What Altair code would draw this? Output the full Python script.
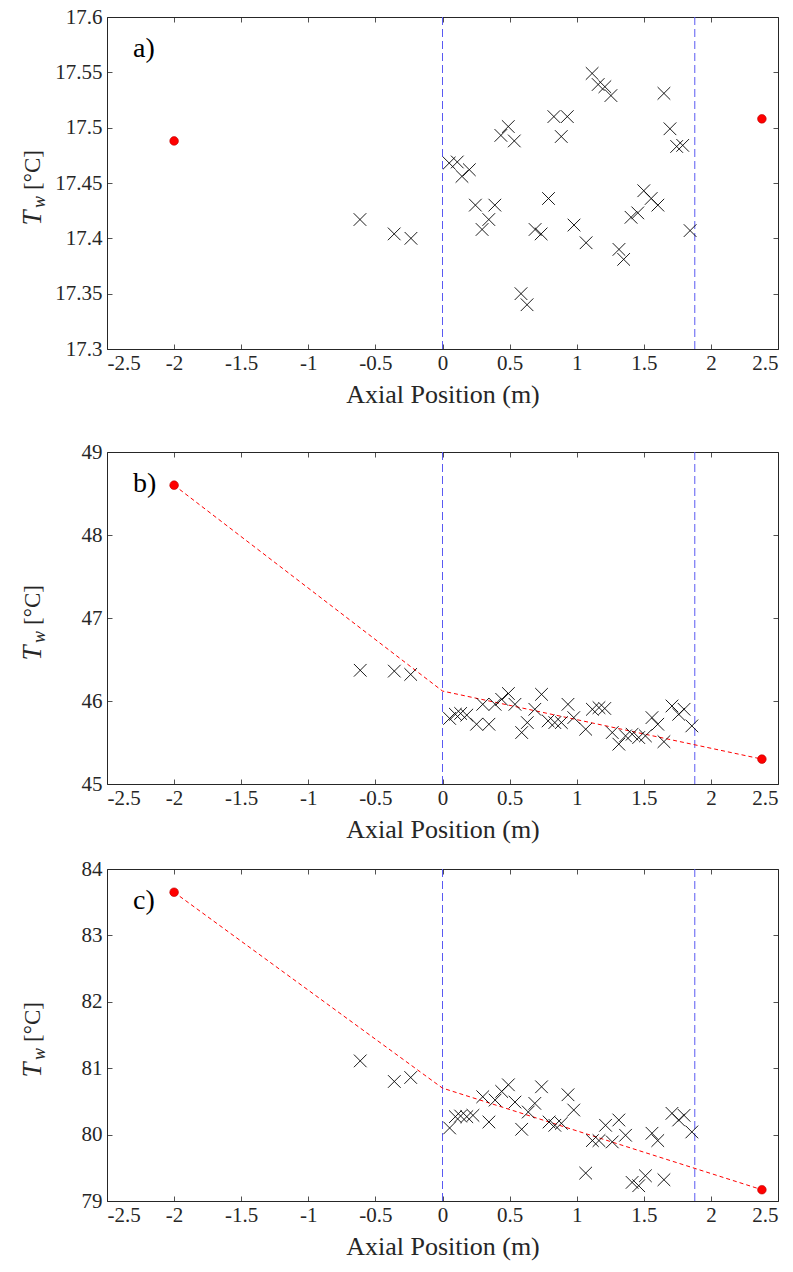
import altair as alt
import pandas as pd

# ---------------- data ----------------
x_ticks = [-2.5, -2, -1.5, -1, -0.5, 0, 0.5, 1, 1.5, 2, 2.5]
section_bounds = [0.0, 1.88]

# panel a) measured wall temperatures
a_x = [-0.615, -0.36, -0.235, 0.05, 0.11, 0.145, 0.2, 0.245, 0.295, 0.345, 0.39, 0.435,
       0.49, 0.535, 0.585, 0.63, 0.69, 0.735, 0.79, 0.83, 0.885, 0.93, 0.98, 1.07, 1.115,
       1.16, 1.21, 1.255, 1.315, 1.35, 1.405, 1.455, 1.50, 1.555, 1.605, 1.65, 1.695,
       1.745, 1.79, 1.845]
a_T = [17.417, 17.404, 17.400, 17.468, 17.469, 17.456, 17.462, 17.430, 17.408, 17.417,
       17.430, 17.493, 17.501, 17.488, 17.350, 17.340, 17.408, 17.404, 17.436, 17.510,
       17.492, 17.510, 17.412, 17.396, 17.549, 17.539, 17.537, 17.529, 17.390, 17.381,
       17.419, 17.423, 17.443, 17.436, 17.430, 17.531, 17.499, 17.483, 17.484, 17.407]
a_end_x = [-2.0, 2.38]
a_end_T = [17.488, 17.508]

# panel b)
b_x = [-0.613, -0.359, -0.237, 0.053, 0.096, 0.135, 0.181, 0.254, 0.346, 0.30, 0.392,
       0.441, 0.491, 0.54, 0.59, 0.632, 0.688, 0.738, 0.787, 0.837, 0.886, 0.935, 0.978,
       1.067, 1.117, 1.166, 1.209, 1.265, 1.314, 1.364, 1.413, 1.462, 1.512, 1.561,
       1.604, 1.65, 1.71, 1.76, 1.80, 1.858]
b_T = [46.37, 46.36, 46.32, 45.79, 45.84, 45.85, 45.83, 45.72, 45.72, 45.96, 45.96,
       46.02, 46.09, 45.96, 45.62, 45.74, 45.90, 46.08, 45.76, 45.74, 45.74, 45.96, 45.80,
       45.66, 45.90, 45.92, 45.91, 45.62, 45.48, 45.58, 45.60, 45.56, 45.58, 45.80,
       45.72, 45.51, 45.94, 45.84, 45.90, 45.70]
b_end_x = [-2.0, 2.38]
b_end_T = [48.60, 45.30]
b_fit_x = [-2.0, 0.0, 2.38]
b_fit_T = [48.60, 46.12, 45.30]

# panel c)
c_x = [-0.613, -0.359, -0.237, 0.053, 0.096, 0.135, 0.181, 0.227, 0.346, 0.30, 0.392,
       0.441, 0.491, 0.54, 0.59, 0.639, 0.688, 0.738, 0.794, 0.837, 0.886, 0.935, 0.978,
       1.067, 1.117, 1.166, 1.215, 1.265, 1.314, 1.364, 1.413, 1.462, 1.512, 1.561,
       1.604, 1.65, 1.71, 1.76, 1.80, 1.858]
c_T = [81.11, 80.80, 80.86, 80.10, 80.27, 80.28, 80.27, 80.29, 80.19, 80.57, 80.52,
       80.65, 80.75, 80.49, 80.08, 80.34, 80.47, 80.72, 80.19, 80.14, 80.17, 80.60, 80.37,
       79.42, 79.91, 79.91, 80.14, 79.89, 80.22, 79.99, 79.28, 79.23, 79.38, 80.02,
       79.91, 79.32, 80.32, 80.22, 80.29, 80.04]
c_end_x = [-2.0, 2.38]
c_end_T = [83.65, 79.17]
c_fit_x = [-2.0, 0.0, 2.38]
c_fit_T = [83.65, 80.70, 79.17]

a_yticks = [17.3, 17.35, 17.4, 17.45, 17.5, 17.55, 17.6]
b_yticks = [45, 46, 47, 48, 49]
c_yticks = [79, 80, 81, 82, 83, 84]

# ---------------- style ----------------
W, H = 671, 332
AXC = "#262626"
SERIF = "'Liberation Serif', 'Times New Roman', Times, 'DejaVu Serif', serif"
LBL = 21
XFMT = "datum.value < 0 ? '-' + format(-datum.value, '~g') : format(datum.value, '~g')"
YFMT = "format(datum.value, '~g')"
CROSS = "M-1,-1L1,1M1,-1L-1,1"


def tick_axis(vals, orient, offset):
    return alt.Axis(values=vals, orient=orient, offset=offset, labels=False, title=None,
                    tickSize=5, domain=False, grid=False, tickColor=AXC, tickWidth=0.8)


def panel(px, pT, ex, eT, fx, fT, ydom, yvals, label):
    xs = alt.Scale(domain=[-2.5, 2.5], nice=False, zero=False)
    ys = alt.Scale(domain=ydom, nice=False, zero=False)

    meas = pd.DataFrame({"x": px, "T": pT})
    ends = pd.DataFrame({"x": ex, "T": eT})
    bounds = pd.DataFrame({"x": section_bounds})

    crosses = alt.Chart(meas).mark_point(
        shape=CROSS, size=160, filled=False, color="black", strokeWidth=0.9, opacity=1
    ).encode(
        x=alt.X("x:Q", scale=xs, axis=alt.Axis(
            values=x_ticks, orient="bottom", title="Axial Position (m)", tickSize=0,
            domain=False, grid=False, labelExpr=XFMT, labelPadding=3, titlePadding=8,
            labelFont=SERIF, labelFontSize=LBL, labelColor=AXC, titleFont=SERIF,
            titleFontSize=26, titleFontWeight="normal", titleColor=AXC)),
        y=alt.Y("T:Q", scale=ys, axis=alt.Axis(
            values=yvals, orient="left", title=None, tickSize=0, domain=False,
            grid=False, labelExpr=YFMT, labelPadding=5, labelFont=SERIF,
            labelFontSize=LBL, labelColor=AXC)),
    )

    dots = alt.Chart(ends).mark_point(
        filled=True, size=75, color="#ff0000", stroke="#b80000", strokeWidth=0.6, opacity=1
    ).encode(
        x=alt.X("x:Q", scale=xs, axis=tick_axis(x_ticks, "top", -H)),
        y=alt.Y("T:Q", scale=ys, axis=tick_axis(yvals, "right", -W)),
    )

    vlines = alt.Chart(bounds).mark_rule(
        color="#5a5af2", strokeDash=[8, 4], strokeWidth=1
    ).encode(
        x=alt.X("x:Q", scale=xs, axis=tick_axis(x_ticks, "bottom", -H)),
    )

    yticks_right = alt.Chart(ends).mark_point(opacity=0).encode(
        x=alt.X("x:Q", scale=xs, axis=None),
        y=alt.Y("T:Q", scale=ys, axis=tick_axis(yvals, "left", -W)),
    )

    lab = alt.Chart(pd.DataFrame({"t": [label]})).mark_text(
        font=SERIF, fontSize=28, align="left", baseline="middle", color="black"
    ).encode(text="t:N", x=alt.value(26), y=alt.value(32))

    tT = alt.Chart(pd.DataFrame({"t": ["T"]})).mark_text(
        font=SERIF, fontStyle="italic", fontSize=27, angle=270, align="center",
        baseline="middle", color=AXC
    ).encode(text="t:N", x=alt.value(-74), y=alt.value(H / 2 + 35))
    tw = alt.Chart(pd.DataFrame({"t": ["w"]})).mark_text(
        font=SERIF, fontStyle="italic", fontSize=18, angle=270, align="center",
        baseline="middle", color=AXC
    ).encode(text="t:N", x=alt.value(-67), y=alt.value(H / 2 + 19))
    tC = alt.Chart(pd.DataFrame({"t": ["[°C]"]})).mark_text(
        font=SERIF, fontSize=23, angle=270, align="center", baseline="middle", color=AXC
    ).encode(text="t:N", x=alt.value(-74), y=alt.value(H / 2 - 13))

    layers = [vlines]
    if fx is not None:
        fit = alt.Chart(pd.DataFrame({"x": fx, "T": fT})).mark_line(
            color="#ff0000", strokeDash=[4, 3], strokeWidth=1
        ).encode(x=alt.X("x:Q", scale=xs, axis=None), y=alt.Y("T:Q", scale=ys, axis=None))
        layers.append(fit)
    layers += [crosses, dots, yticks_right, lab, tT, tw, tC]

    return alt.layer(*layers).resolve_axis(x="independent", y="independent").properties(
        width=W, height=H)


pa = panel(a_x, a_T, a_end_x, a_end_T, None, None, [17.3, 17.6], a_yticks, "a)")
pb = panel(b_x, b_T, b_end_x, b_end_T, b_fit_x, b_fit_T, [45, 49], b_yticks, "b)")
pc = panel(c_x, c_T, c_end_x, c_end_T, c_fit_x, c_fit_T, [79, 84], c_yticks, "c)")

chart = alt.vconcat(alt.vconcat(pa, pb, spacing=32), pc, spacing=14).properties(
    padding={"left": 18, "top": 5, "right": 5, "bottom": 5},
    background="white",
).configure_view(
    stroke=AXC, strokeWidth=1
)

chart.save("out.html", embed_options={"renderer": "svg", "actions": False})
